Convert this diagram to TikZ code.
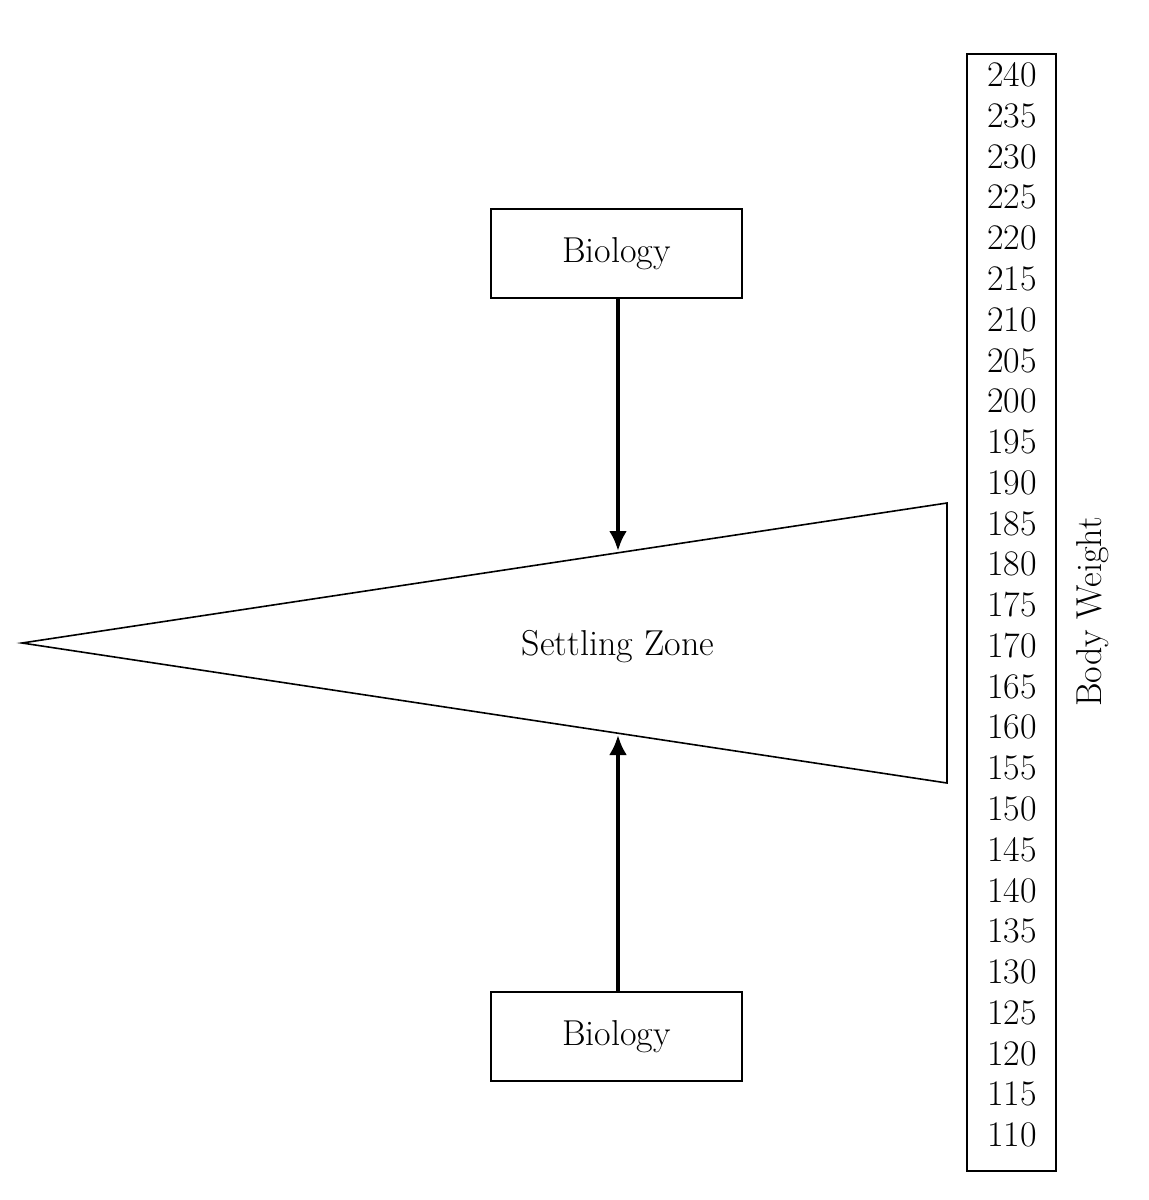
\documentclass[tikz,border=0pt]{standalone}
\usetikzlibrary{arrows.meta}
\begin{document}
\begin{tikzpicture}[x=1pt,y=-1pt,
  txt/.style={font=\fontsize{36}{42}\selectfont, inner sep=0pt},
  biobox/.style={draw, line width=1.7pt, minimum width=251pt, minimum height=89pt, inner sep=0pt, font=\fontsize{36}{42}\selectfont},
  flow/.style={line width=4pt, -{Latex[length=20pt,width=18pt]}, shorten >=1pt}]
\useasboundingbox (0,0) rectangle (1149,1200);
% scale box
\node[draw, line width=1.7pt, minimum width=89pt, minimum height=1117pt, inner sep=0pt] (scale) at (1011.5,612.5) {};
\foreach \v [count=\i from 0] in {240,235,...,110} {
  \node[txt] (n\v) at (1012, {75+\i*40.77}) {\v};
}
\node[txt, rotate=90] (bw) at (1093,612) {Body Weight};
% triangle
\coordinate (tip) at (22,643);
\coordinate (tr) at (947,503);
\coordinate (br) at (947,783);
\draw[line width=1.6pt, line join=miter] (tip) -- (tr) -- (br) -- cycle;
\node[txt] (sz) at (618,647) {Settling Zone};
% boxes
\node[biobox] (bio1) at (616.5,253.5) {Biology};
\node[biobox] (bio2) at (616.5,1036.5) {Biology};
\coordinate (hitT) at (618,552);
\coordinate (hitB) at (618,734);
\draw[flow] (bio1.south -| hitT) -- (hitT);
\draw[flow] (bio2.north -| hitB) -- (hitB);
\end{tikzpicture}
\end{document}
